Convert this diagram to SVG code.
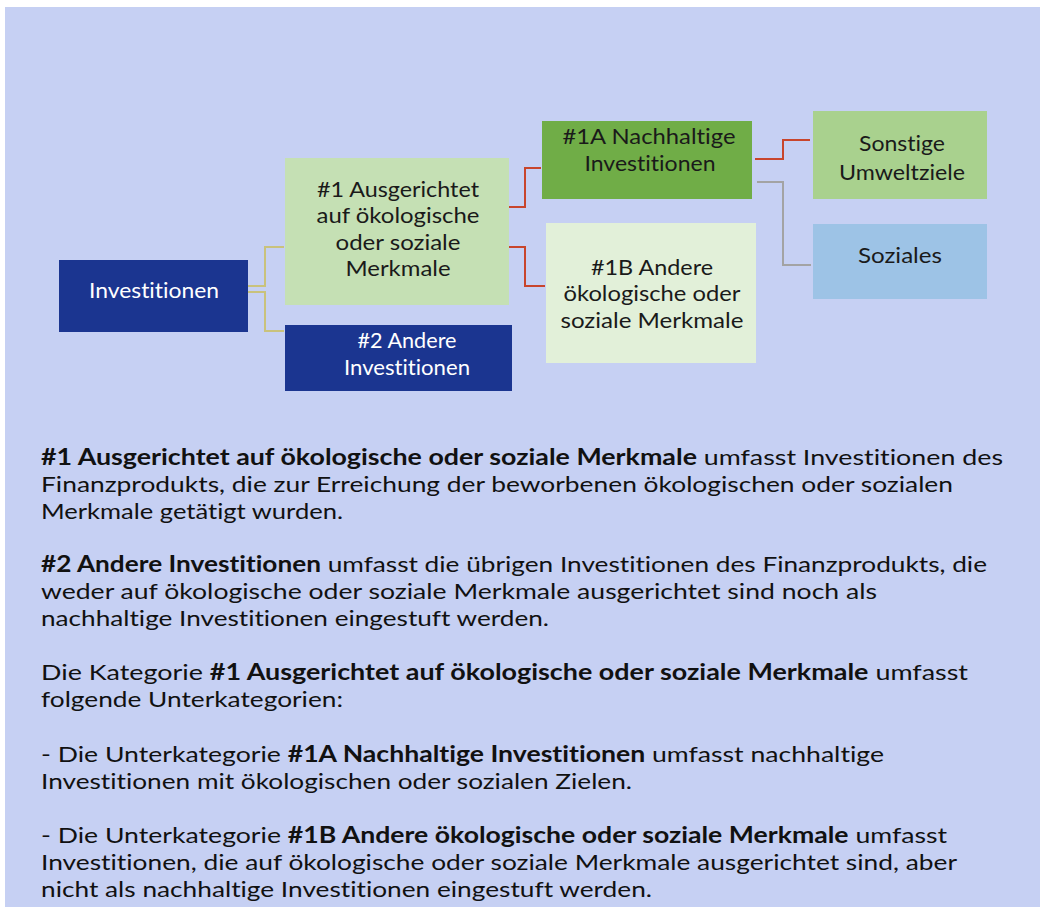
<svg xmlns="http://www.w3.org/2000/svg" width="1040" height="911" viewBox="0 0 1040 911">
<style>
text{font-variant-ligatures:none}
.bx{font-family:Lato,"Noto Sans","Liberation Sans",sans-serif;font-size:21px;text-anchor:middle;fill:#1a1a1a}
.wt{fill:#ffffff}
.body{font-family:Lato,"Noto Sans","Liberation Sans",sans-serif;font-size:22px;fill:#111111}
.b{font-weight:700}
.cn{fill:none;stroke-width:2}
.ol{stroke:#c9c27c}
.rd{stroke:#c8452c}
.gy{stroke:#a3a3a3}
</style>
<rect x="5" y="7" width="1035" height="900" fill="#c6d0f3"/>
<g id="connectors">
<polyline class="cn ol" points="248,286 265,286 265,247 284,247"/>
<polyline class="cn ol" points="248,292 265,292 265,331 284,331"/>
<polyline class="cn rd" points="509,207 525,207 525,168 541,168"/>
<polyline class="cn rd" points="509,247 525,247 525,286 545,286"/>
<polyline class="cn rd" points="755,159 783,159 783,140 810,140"/>
<polyline class="cn gy" points="757,182 783,182 783,265 811,265"/>
</g>
<g id="n-investitionen">
<rect x="59" y="260" width="189" height="72" fill="#1b3590"/>
<text class="bx wt" x="154" y="298" textLength="130" lengthAdjust="spacingAndGlyphs">Investitionen</text>
</g>
<g id="n-1">
<rect x="285" y="158" width="224" height="147" fill="#c5e0b4"/>
<text class="bx" x="398" y="197" textLength="162" lengthAdjust="spacingAndGlyphs">#1 Ausgerichtet</text>
<text class="bx" x="398" y="223" textLength="163" lengthAdjust="spacingAndGlyphs">auf ökologische</text>
<text class="bx" x="398" y="250" textLength="125" lengthAdjust="spacingAndGlyphs">oder soziale</text>
<text class="bx" x="398" y="276" textLength="105" lengthAdjust="spacingAndGlyphs">Merkmale</text>
</g>
<g id="n-2">
<rect x="285" y="325" width="227" height="66" fill="#1b3590"/>
<text class="bx wt" x="407" y="348" textLength="99" lengthAdjust="spacingAndGlyphs">#2 Andere</text>
<text class="bx wt" x="407" y="375" textLength="126" lengthAdjust="spacingAndGlyphs">Investitionen</text>
</g>
<g id="n-1a">
<rect x="542" y="121" width="210" height="78" fill="#70ad47"/>
<text class="bx" x="649" y="144" textLength="173" lengthAdjust="spacingAndGlyphs">#1A Nachhaltige</text>
<text class="bx" x="650" y="171" textLength="131" lengthAdjust="spacingAndGlyphs">Investitionen</text>
</g>
<g id="n-1b">
<rect x="546" y="223" width="210" height="140" fill="#e2f0d9"/>
<text class="bx" x="652" y="275" textLength="122" lengthAdjust="spacingAndGlyphs">#1B Andere</text>
<text class="bx" x="652" y="301" textLength="177" lengthAdjust="spacingAndGlyphs">ökologische oder</text>
<text class="bx" x="652" y="328" textLength="183" lengthAdjust="spacingAndGlyphs">soziale Merkmale</text>
</g>
<g id="n-sonstige">
<rect x="813" y="111" width="174" height="88" fill="#a9d18e"/>
<text class="bx" x="902" y="151" textLength="86" lengthAdjust="spacingAndGlyphs">Sonstige</text>
<text class="bx" x="902" y="180" textLength="126" lengthAdjust="spacingAndGlyphs">Umweltziele</text>
</g>
<g id="n-soziales">
<rect x="813" y="224" width="174" height="75" fill="#9dc3e6"/>
<text class="bx" x="900" y="263" textLength="84" lengthAdjust="spacingAndGlyphs">Soziales</text>
</g>
<g id="description">
<text class="body" x="41" y="465" textLength="962" lengthAdjust="spacingAndGlyphs"><tspan class="b">#1 Ausgerichtet auf ökologische oder soziale Merkmale</tspan> umfasst Investitionen des</text>
<text class="body" x="41" y="492" textLength="912" lengthAdjust="spacingAndGlyphs">Finanzprodukts, die zur Erreichung der beworbenen ökologischen oder sozialen</text>
<text class="body" x="41" y="519" textLength="302" lengthAdjust="spacingAndGlyphs">Merkmale getätigt wurden.</text>
<text class="body" x="41" y="572" textLength="946" lengthAdjust="spacingAndGlyphs"><tspan class="b">#2 Andere Investitionen</tspan> umfasst die übrigen Investitionen des Finanzprodukts, die</text>
<text class="body" x="41" y="599" textLength="836" lengthAdjust="spacingAndGlyphs">weder auf ökologische oder soziale Merkmale ausgerichtet sind noch als</text>
<text class="body" x="41" y="626" textLength="508" lengthAdjust="spacingAndGlyphs">nachhaltige Investitionen eingestuft werden.</text>
<text class="body" x="41" y="680" textLength="927" lengthAdjust="spacingAndGlyphs">Die Kategorie <tspan class="b">#1 Ausgerichtet auf ökologische oder soziale Merkmale</tspan> umfasst</text>
<text class="body" x="41" y="707" textLength="302" lengthAdjust="spacingAndGlyphs">folgende Unterkategorien:</text>
<text class="body" x="41" y="762" textLength="843" lengthAdjust="spacingAndGlyphs">- Die Unterkategorie <tspan class="b">#1A Nachhaltige Investitionen</tspan> umfasst nachhaltige</text>
<text class="body" x="41" y="789" textLength="591" lengthAdjust="spacingAndGlyphs">Investitionen mit ökologischen oder sozialen Zielen.</text>
<text class="body" x="41" y="843" textLength="906" lengthAdjust="spacingAndGlyphs">- Die Unterkategorie <tspan class="b">#1B Andere ökologische oder soziale Merkmale</tspan> umfasst</text>
<text class="body" x="41" y="870" textLength="916" lengthAdjust="spacingAndGlyphs">Investitionen, die auf ökologische oder soziale Merkmale ausgerichtet sind, aber</text>
<text class="body" x="41" y="897" textLength="611" lengthAdjust="spacingAndGlyphs">nicht als nachhaltige Investitionen eingestuft werden.</text>
</g>
</svg>
